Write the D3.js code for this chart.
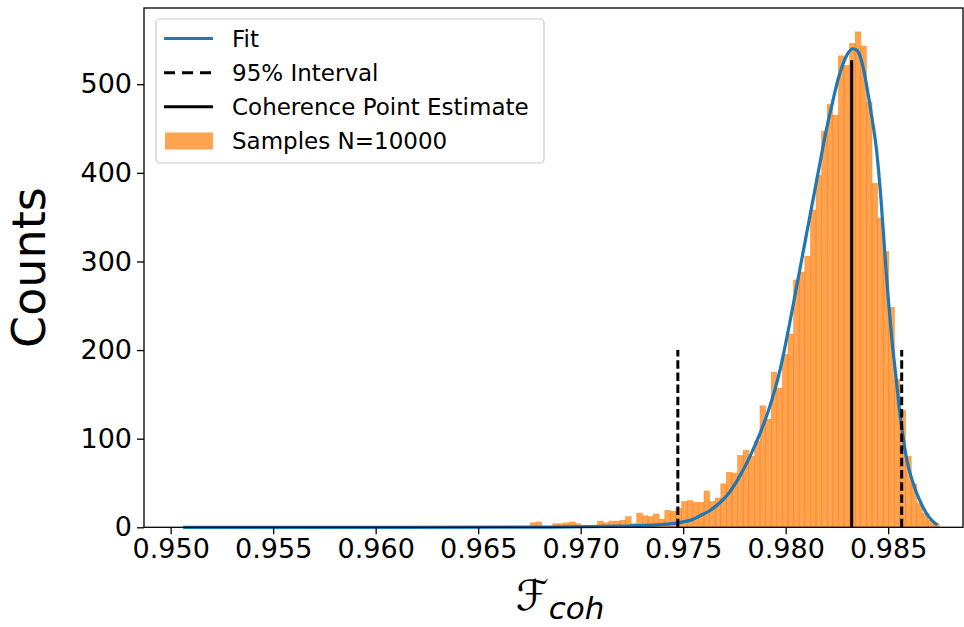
<!DOCTYPE html>
<html>
<head>
<meta charset="utf-8">
<script src="https://cdn.jsdelivr.net/npm/d3@7"></script>
<style>
  html, body { margin: 0; padding: 0; background: #fff; }
  svg { display: block; }
  text { font-family: "DejaVu Sans", sans-serif; fill: #000; }
</style>
</head>
<body>
<svg id="chart" width="964" height="627"></svg>
<script>
// Histogram of 10000 fidelity samples: equal-width bins between the sample min and max
const binLo = 0.95061;
const binHi = 0.98749;
const binCounts = [
  1, 0, 0, 0, 0, 0, 0, 0, 0, 0, 0, 0, 0, 0, 0, 0, 0, 0, 0, 0,
  0, 0, 0, 0, 0, 0, 0, 0, 0, 0, 0, 0, 0, 0, 0, 0, 0, 0, 0, 0,
  0, 0, 0, 0, 0, 0, 0, 1, 0, 0, 0, 0, 0, 0, 0, 1, 1, 1, 0, 1,
  0, 0, 5, 6, 1, 0, 4, 4, 5, 6, 4, 0, 1, 0, 7, 5, 7, 7, 8, 12,
  4, 16, 13, 12, 15, 9, 19, 18, 21, 29, 30, 28, 28, 41, 29, 33, 49, 62, 61, 81,
  87, 80, 97, 137, 122, 175, 157, 195, 218, 279, 288, 306, 358, 397, 447, 477, 465, 532, 521, 546,
  559, 543, 480, 388, 349, 311, 248, 167, 132, 80, 49, 27, 16, 8, 4
];

// Fitted curve, sampled as [fidelity, counts]
const fitX = [
  0.95061, 0.96119, 0.96850, 0.97192, 0.97387, 0.97474, 0.97548, 0.97582, 0.97631, 0.97680,
  0.97714, 0.97777, 0.97826, 0.97875, 0.97909, 0.97973, 0.98021, 0.98070, 0.98119, 0.98168,
  0.98197, 0.98231, 0.98255, 0.98280, 0.98304, 0.98327, 0.98343, 0.98357, 0.98377, 0.98396,
  0.98421, 0.98445, 0.98465, 0.98484, 0.98499, 0.98518, 0.98538, 0.98557, 0.98572, 0.98591,
  0.98616, 0.98640, 0.98665, 0.98689, 0.98713, 0.98740
];
const fitY = [
  0, 0, 0.3, 1.3, 3, 5, 9, 13, 19, 28,
  36, 58, 80, 106, 127, 178, 232, 292, 352, 412,
  447, 482, 505, 523, 535, 540, 539, 535, 520, 497,
  462, 422, 370, 309, 262, 212, 170, 129, 103, 76,
  54, 38, 25, 15, 8, 2.5
];

// Interval bounds and point estimate, with the heights the markers are drawn to
const intervalBounds = [0.97474, 0.98566];
const intervalHeight = 200;
const pointEstimate = 0.98322;
const pointHeight = 527;

const xTicks = [0.950, 0.955, 0.960, 0.965, 0.970, 0.975, 0.980, 0.985];
const yTicks = [0, 100, 200, 300, 400, 500];
const legendLabels = ["Fit", "95% Interval", "Coherence Point Estimate", "Samples N=10000"];

const colors = { fit: "#1f77b4", hist: "#ff7f0e" };

const svg = d3.select("#chart");
const plot = { left: 144, right: 963, top: 8, bottom: 527.3 };

const x = d3.scaleLinear().domain([0.94870, 0.98865]).range([plot.left, plot.right]);
const y = d3.scaleLinear().domain([0, 586]).range([plot.bottom, plot.top]);

// Bars
const nBins = binCounts.length;
const bw = (binHi - binLo) / nBins;
const bins = binCounts.map((c, i) => ({ x0: binLo + i * bw, x1: binLo + (i + 1) * bw, c }));

svg.append("g")
  .selectAll("rect")
  .data(bins.filter(d => d.c > 0))
  .join("rect")
  .attr("x", d => x(d.x0))
  .attr("width", d => x(d.x1) - x(d.x0))
  .attr("y", d => y(d.c))
  .attr("height", d => y(0) - y(d.c))
  .attr("fill", colors.hist)
  .attr("fill-opacity", 0.72)
  .attr("stroke", colors.hist)
  .attr("stroke-opacity", 0.75)
  .attr("stroke-width", 0.6);

// Fit curve
const fitPts = fitX.map((v, i) => [v, fitY[i]]);
svg.append("path")
  .datum(fitPts)
  .attr("fill", "none")
  .attr("stroke", colors.fit)
  .attr("stroke-width", 3.2)
  .attr("stroke-linejoin", "round")
  .attr("d", d3.line().x(d => x(d[0])).y(d => y(d[1])).curve(d3.curveMonotoneX));

// Interval markers
svg.append("g")
  .selectAll("line")
  .data(intervalBounds)
  .join("line")
  .attr("x1", d => x(d)).attr("x2", d => x(d))
  .attr("y1", y(0)).attr("y2", y(intervalHeight))
  .attr("stroke", "#000")
  .attr("stroke-width", 3)
  .attr("stroke-dasharray", "8.5,3.7");

// Point estimate
svg.append("line")
  .attr("x1", x(pointEstimate)).attr("x2", x(pointEstimate))
  .attr("y1", y(0)).attr("y2", y(pointHeight))
  .attr("stroke", "#000")
  .attr("stroke-width", 3);

// Axes
const xAxis = d3.axisBottom(x).tickValues(xTicks).tickFormat(d3.format(".3f")).tickSize(7).tickPadding(5);
const yAxis = d3.axisLeft(y).tickValues(yTicks).tickFormat(d3.format("d")).tickSize(7).tickPadding(5);

const gx = svg.append("g").attr("transform", `translate(0,${plot.bottom})`).call(xAxis);
const gy = svg.append("g").attr("transform", `translate(${plot.left},0)`).call(yAxis);
[gx, gy].forEach(g => {
  g.select(".domain").remove();
  g.selectAll(".tick line").attr("stroke", "#000").attr("stroke-width", 1.3);
  g.selectAll(".tick text").attr("font-family", "DejaVu Sans").attr("font-size", 27).attr("fill", "#000");
});

// Frame
svg.append("rect")
  .attr("x", plot.left).attr("y", plot.top)
  .attr("width", plot.right - plot.left).attr("height", plot.bottom - plot.top)
  .attr("fill", "none").attr("stroke", "#000").attr("stroke-width", 1.3);

// Axis titles
svg.append("text")
  .attr("transform", `translate(45,${(plot.top + plot.bottom) / 2}) rotate(-90)`)
  .attr("text-anchor", "middle")
  .attr("font-size", 46)
  .text("Counts");

const xl = svg.append("text")
  .attr("x", 560)
  .attr("y", 610)
  .attr("text-anchor", "middle")
  .attr("font-size", 42);
xl.append("tspan").attr("font-family", "DejaVu Sans").text("ℱ");
xl.append("tspan").attr("font-style", "italic").attr("font-size", 31).attr("dy", 9).text("coh");

// Legend
const lg = svg.append("g");
lg.append("rect")
  .attr("x", 156).attr("y", 19).attr("width", 388).attr("height", 144)
  .attr("rx", 4).attr("fill", "#fff").attr("fill-opacity", 0.8)
  .attr("stroke", "#cccccc").attr("stroke-width", 1.2);

const rowY = d3.scalePoint().domain(legendLabels).range([38.5, 141]);
const hx0 = 164, hx1 = 213;

lg.append("line").attr("x1", hx0).attr("x2", hx1)
  .attr("y1", rowY(legendLabels[0])).attr("y2", rowY(legendLabels[0]))
  .attr("stroke", colors.fit).attr("stroke-width", 3.2);
lg.append("line").attr("x1", hx0).attr("x2", hx1)
  .attr("y1", rowY(legendLabels[1])).attr("y2", rowY(legendLabels[1]))
  .attr("stroke", "#000").attr("stroke-width", 3).attr("stroke-dasharray", "11,7");
lg.append("line").attr("x1", hx0).attr("x2", hx1)
  .attr("y1", rowY(legendLabels[2])).attr("y2", rowY(legendLabels[2]))
  .attr("stroke", "#000").attr("stroke-width", 3);
lg.append("rect").attr("x", hx0 + 1).attr("width", hx1 - hx0 - 1)
  .attr("y", rowY(legendLabels[3]) - 8.5).attr("height", 17)
  .attr("fill", colors.hist).attr("fill-opacity", 0.72);

lg.selectAll("text.lbl")
  .data(legendLabels)
  .join("text")
  .attr("class", "lbl")
  .attr("x", 232)
  .attr("y", d => rowY(d))
  .attr("dy", "0.36em")
  .attr("font-size", 23)
  .text(d => d);
</script>
</body>
</html>
